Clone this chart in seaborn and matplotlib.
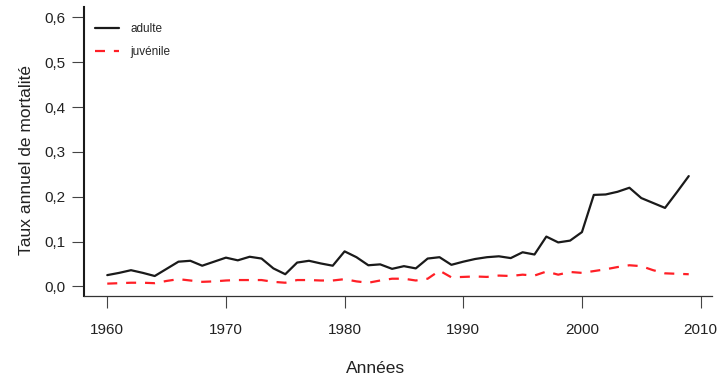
import matplotlib
matplotlib.use("Agg")
import matplotlib.pyplot as plt
from matplotlib.lines import Line2D
import seaborn as sns
import pandas as pd

years = list(range(1960, 2010))
adulte = [0.025, 0.030, 0.036, 0.030, 0.023, 0.039, 0.055, 0.057, 0.046, 0.055,
          0.064, 0.058, 0.066, 0.062, 0.040, 0.027, 0.053, 0.057, 0.051, 0.046,
          0.078, 0.065, 0.047, 0.049, 0.039, 0.045, 0.040, 0.062, 0.065, 0.048,
          0.055, 0.061, 0.065, 0.067, 0.063, 0.076, 0.071, 0.111, 0.098, 0.102,
          0.121, 0.204, 0.205, 0.211, 0.220, 0.197, 0.186, 0.175, 0.210, 0.246]
juvenile = [0.006, 0.007, 0.008, 0.008, 0.007, 0.012, 0.016, 0.013, 0.010, 0.011,
            0.013, 0.014, 0.014, 0.014, 0.010, 0.008, 0.014, 0.014, 0.013, 0.013,
            0.016, 0.011, 0.008, 0.013, 0.017, 0.017, 0.013, 0.017, 0.035, 0.020,
            0.021, 0.022, 0.021, 0.024, 0.023, 0.026, 0.024, 0.033, 0.026, 0.032,
            0.030, 0.034, 0.038, 0.043, 0.047, 0.045, 0.036, 0.029, 0.028, 0.027]
series_names = ["adulte", "juvénile"]
y_ticks = [0.0, 0.1, 0.2, 0.3, 0.4, 0.5, 0.6]
y_tick_labels = ["0,0", "0,1", "0,2", "0,3", "0,4", "0,5", "0,6"]
x_ticks = [1960, 1970, 1980, 1990, 2000, 2010]

sns.set_style("white")
plt.rcParams["font.family"] = ["Liberation Sans", "DejaVu Sans"]

df = pd.DataFrame({"annee": years, "adulte": adulte, "juvenile": juvenile})

fig = plt.figure(figsize=(7.18, 3.81), dpi=100)
ax = fig.add_axes([84 / 718, 85 / 381, 628 / 718, 289 / 381])

black = "#1a1a1a"
red = "#ff1f26"
sns.lineplot(data=df, x="annee", y="adulte", ax=ax, color=black, linewidth=1.6)
sns.lineplot(data=df, x="annee", y="juvenile", ax=ax, color=red, linewidth=1.6,
             dashes=False)
ax.lines[1].set_dashes((4.5, 4))

ax.set_xlim(1958.04, 2010.96)
ax.set_ylim(-0.0216, 0.6234)
ax.set_yticks(y_ticks)
ax.set_yticklabels(y_tick_labels)
ax.set_xticks(x_ticks)

for side in ("top", "right"):
    ax.spines[side].set_visible(False)
ax.spines["left"].set_color(black)
ax.spines["left"].set_linewidth(1.5)
ax.spines["bottom"].set_color("#333333")
ax.spines["bottom"].set_linewidth(0.9)

ax.tick_params(axis="both", which="major", length=8.6, width=0.8, color="#444444",
               labelsize=11, labelcolor="#222222", left=True, bottom=True)
ax.tick_params(axis="x", pad=11)
ax.tick_params(axis="y", pad=5)

ax.set_xlabel("Années", fontsize=12.5, color="#222222")
ax.set_ylabel("Taux annuel de mortalité", fontsize=12.5, color="#222222")
ax.xaxis.set_label_coords(0.465, -0.25)
ax.xaxis.label.set_va("center")
ax.yaxis.set_label_coords(-0.092, 0.47)
ax.yaxis.label.set_va("center")

handles = [
    Line2D([], [], color=black, linewidth=1.6),
    Line2D([], [], color=red, linewidth=1.6, dashes=(4.5, 4)),
]
ax.legend(handles, series_names, loc="upper left", bbox_to_anchor=(0.010, 0.9606),
          frameon=False, fontsize=8.5, handlelength=2.0, handletextpad=1.0,
          labelspacing=0.95, borderaxespad=0.0, borderpad=0.4)

fig.savefig("out.png", dpi=100)
